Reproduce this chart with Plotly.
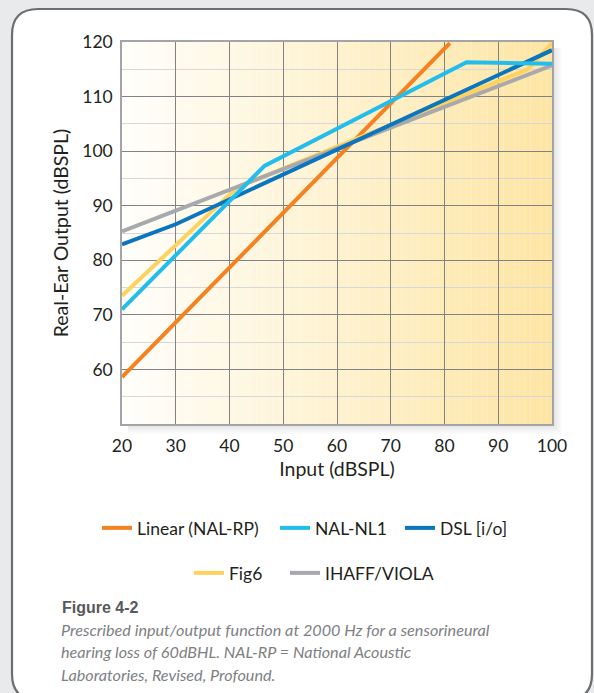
import plotly.graph_objects as go

# Prescribed input/output function at 2000 Hz

linear_x = [20, 81]
linear_y = [58.6, 119.8]

nl1_x = [20, 46.5, 84.1, 100]
nl1_y = [71.0, 97.3, 116.3, 116.0]

dsl_x = [20, 30, 100]
dsl_y = [82.9, 86.6, 118.5]

fig6_x = [20, 41.5, 95.5, 100]
fig6_y = [73.5, 93.4, 115.0, 119.8]

ihaff_x = [20, 100]
ihaff_y = [85.3, 115.7]

x_ticks = [20, 30, 40, 50, 60, 70, 80, 90, 100]
y_ticks = [60, 70, 80, 90, 100, 110, 120]

caption_title = "Figure 4-2"
caption_lines = [
    "Prescribed input/output function at 2000 Hz for a sensorineural",
    "hearing loss of 60dBHL. NAL-RP = National Acoustic",
    "Laboratories, Revised, Profound.",
]

# page geometry (pixels)
W, H = 594, 693
L, R, T, B = 122, 552, 42, 424


def px(x):
    return (x - L) / (R - L)


def py(y):
    return (B - y) / (B - T)


series = [
    # name, x, y, colour, legend, legend item left / centre row (px)
    ("Linear (NAL-RP)", linear_x, linear_y, "#F58220", "legend", 97, 528),
    ("Fig6", fig6_x, fig6_y, "#FDD25E", "legend4", 189, 573),
    ("IHAFF/VIOLA", ihaff_x, ihaff_y, "#A7A9AC", "legend5", 285, 573),
    ("DSL [i/o]", dsl_x, dsl_y, "#0B75BD", "legend3", 400, 528),
    ("NAL-NL1", nl1_x, nl1_y, "#22BDED", "legend2", 275, 528),
]

fig = go.Figure()
legends = {}
for name, xs, ys, col, leg, lx, ly in series:
    fig.add_trace(go.Scatter(
        x=xs, y=ys, mode="lines", name=name, showlegend=True,
        line=dict(color=col, width=4), legend=leg,
    ))
    legends[leg] = dict(
        orientation="h", x=px(lx), xanchor="left", y=py(ly), yanchor="middle",
        font=dict(family="Lato", size=17.5, color="#231F20"),
        bgcolor="rgba(0,0,0,0)", borderwidth=0, visible=True,
    )

shapes = []

# white rounded card with grey border
l0, t0, r0, b0, rad = 12, 9, 592, 700, 26
pts = [
    ("M", [(l0, t0 + rad)]),
    ("Q", [(l0, t0), (l0 + rad, t0)]),
    ("L", [(r0 - rad, t0)]),
    ("Q", [(r0, t0), (r0, t0 + rad)]),
    ("L", [(r0, b0 - rad)]),
    ("Q", [(r0, b0), (r0 - rad, b0)]),
    ("L", [(l0 + rad, b0)]),
    ("Q", [(l0, b0), (l0, b0 - rad)]),
]
path = ""
for cmd, ps in pts:
    path += cmd + " " + " ".join("%.5f,%.5f" % (px(a), py(b)) for a, b in ps) + " "
path += "Z"
shapes.append(dict(type="path", path=path, xref="paper", yref="paper",
                   fillcolor="white", line=dict(color="#6D6E71", width=2.2),
                   layer="below"))

# soft shadow right and below the plot area
for k in range(10):
    a = "rgba(110,112,120,0.022)"
    shapes.append(dict(type="rect", xref="paper", yref="paper",
                       x0=px(R), x1=px(R + 10 - k), y0=py(B + 10 - k), y1=py(T + 6),
                       fillcolor=a, line=dict(width=0), layer="below"))
    shapes.append(dict(type="rect", xref="paper", yref="paper",
                       x0=px(L + 6), x1=px(R), y0=py(B + 10 - k), y1=py(B),
                       fillcolor=a, line=dict(width=0), layer="below"))

# horizontal white -> pale yellow gradient behind the grid
n = 80
c0 = (255, 254, 251)
c1 = (253, 229, 163)
for i in range(n):
    f = (i + 0.5) / n
    c = tuple(round(c0[j] + (c1[j] - c0[j]) * f) for j in range(3))
    shapes.append(dict(type="rect", xref="paper", yref="paper",
                       x0=i / n, x1=(i + 1.02) / n, y0=0, y1=1,
                       fillcolor="rgb(%d,%d,%d)" % c, line=dict(width=0),
                       layer="below"))

annotations = [dict(
    text=caption_title, xref="paper", yref="paper", x=px(60), y=py(607),
    xanchor="left", yanchor="middle", showarrow=False,
    font=dict(family="Liberation Sans", size=16, color="#58595B", weight="bold"),
)]
for i, line in enumerate(caption_lines):
    annotations.append(dict(
        text=line, xref="paper", yref="paper", x=px(59), y=py(629 + 22.5 * i),
        xanchor="left", yanchor="middle", showarrow=False,
        font=dict(family="Lato", size=16.2, color="#7E8083", style="italic"),
    ))

axis_font = dict(family="Lato", size=17.5, color="#231F20")
title_font = dict(family="Lato", size=19.5, color="#231F20")

fig.update_layout(
    width=W, height=H,
    margin=dict(l=L, r=W - R, t=T, b=H - B),
    paper_bgcolor="#E9EAEB",
    plot_bgcolor="rgba(0,0,0,0)",
    font=dict(family="Lato", color="#231F20"),
    showlegend=True,
    shapes=shapes,
    annotations=annotations,
    xaxis=dict(
        range=[20, 100], tickvals=x_ticks, showgrid=True,
        gridcolor="#808285", gridwidth=1.2,
        showline=True, linecolor="#A2A4A7", linewidth=1.5, mirror=True,
        ticks="", tickfont=axis_font, ticklabelstandoff=5,
        title=dict(text="Input (dBSPL)", font=title_font, standoff=8),
        zeroline=False, automargin=False,
    ),
    yaxis=dict(
        range=[50, 120], tickvals=y_ticks, showgrid=True,
        gridcolor="#808285", gridwidth=1.2,
        minor=dict(tick0=0, dtick=5, showgrid=True, gridcolor="#D6D7D8", gridwidth=1.3),
        showline=True, linecolor="#A2A4A7", linewidth=1.5, mirror=True,
        ticks="", tickfont=axis_font, ticklabelstandoff=4,
        title=dict(text="Real-Ear Output (dBSPL)", font=title_font, standoff=8),
        zeroline=False, automargin=False,
    ),
)
fig.update_layout(**legends)

fig.write_html("out.html", config={"displayModeBar": False},
               post_script="document.body.style.margin='0px';")
